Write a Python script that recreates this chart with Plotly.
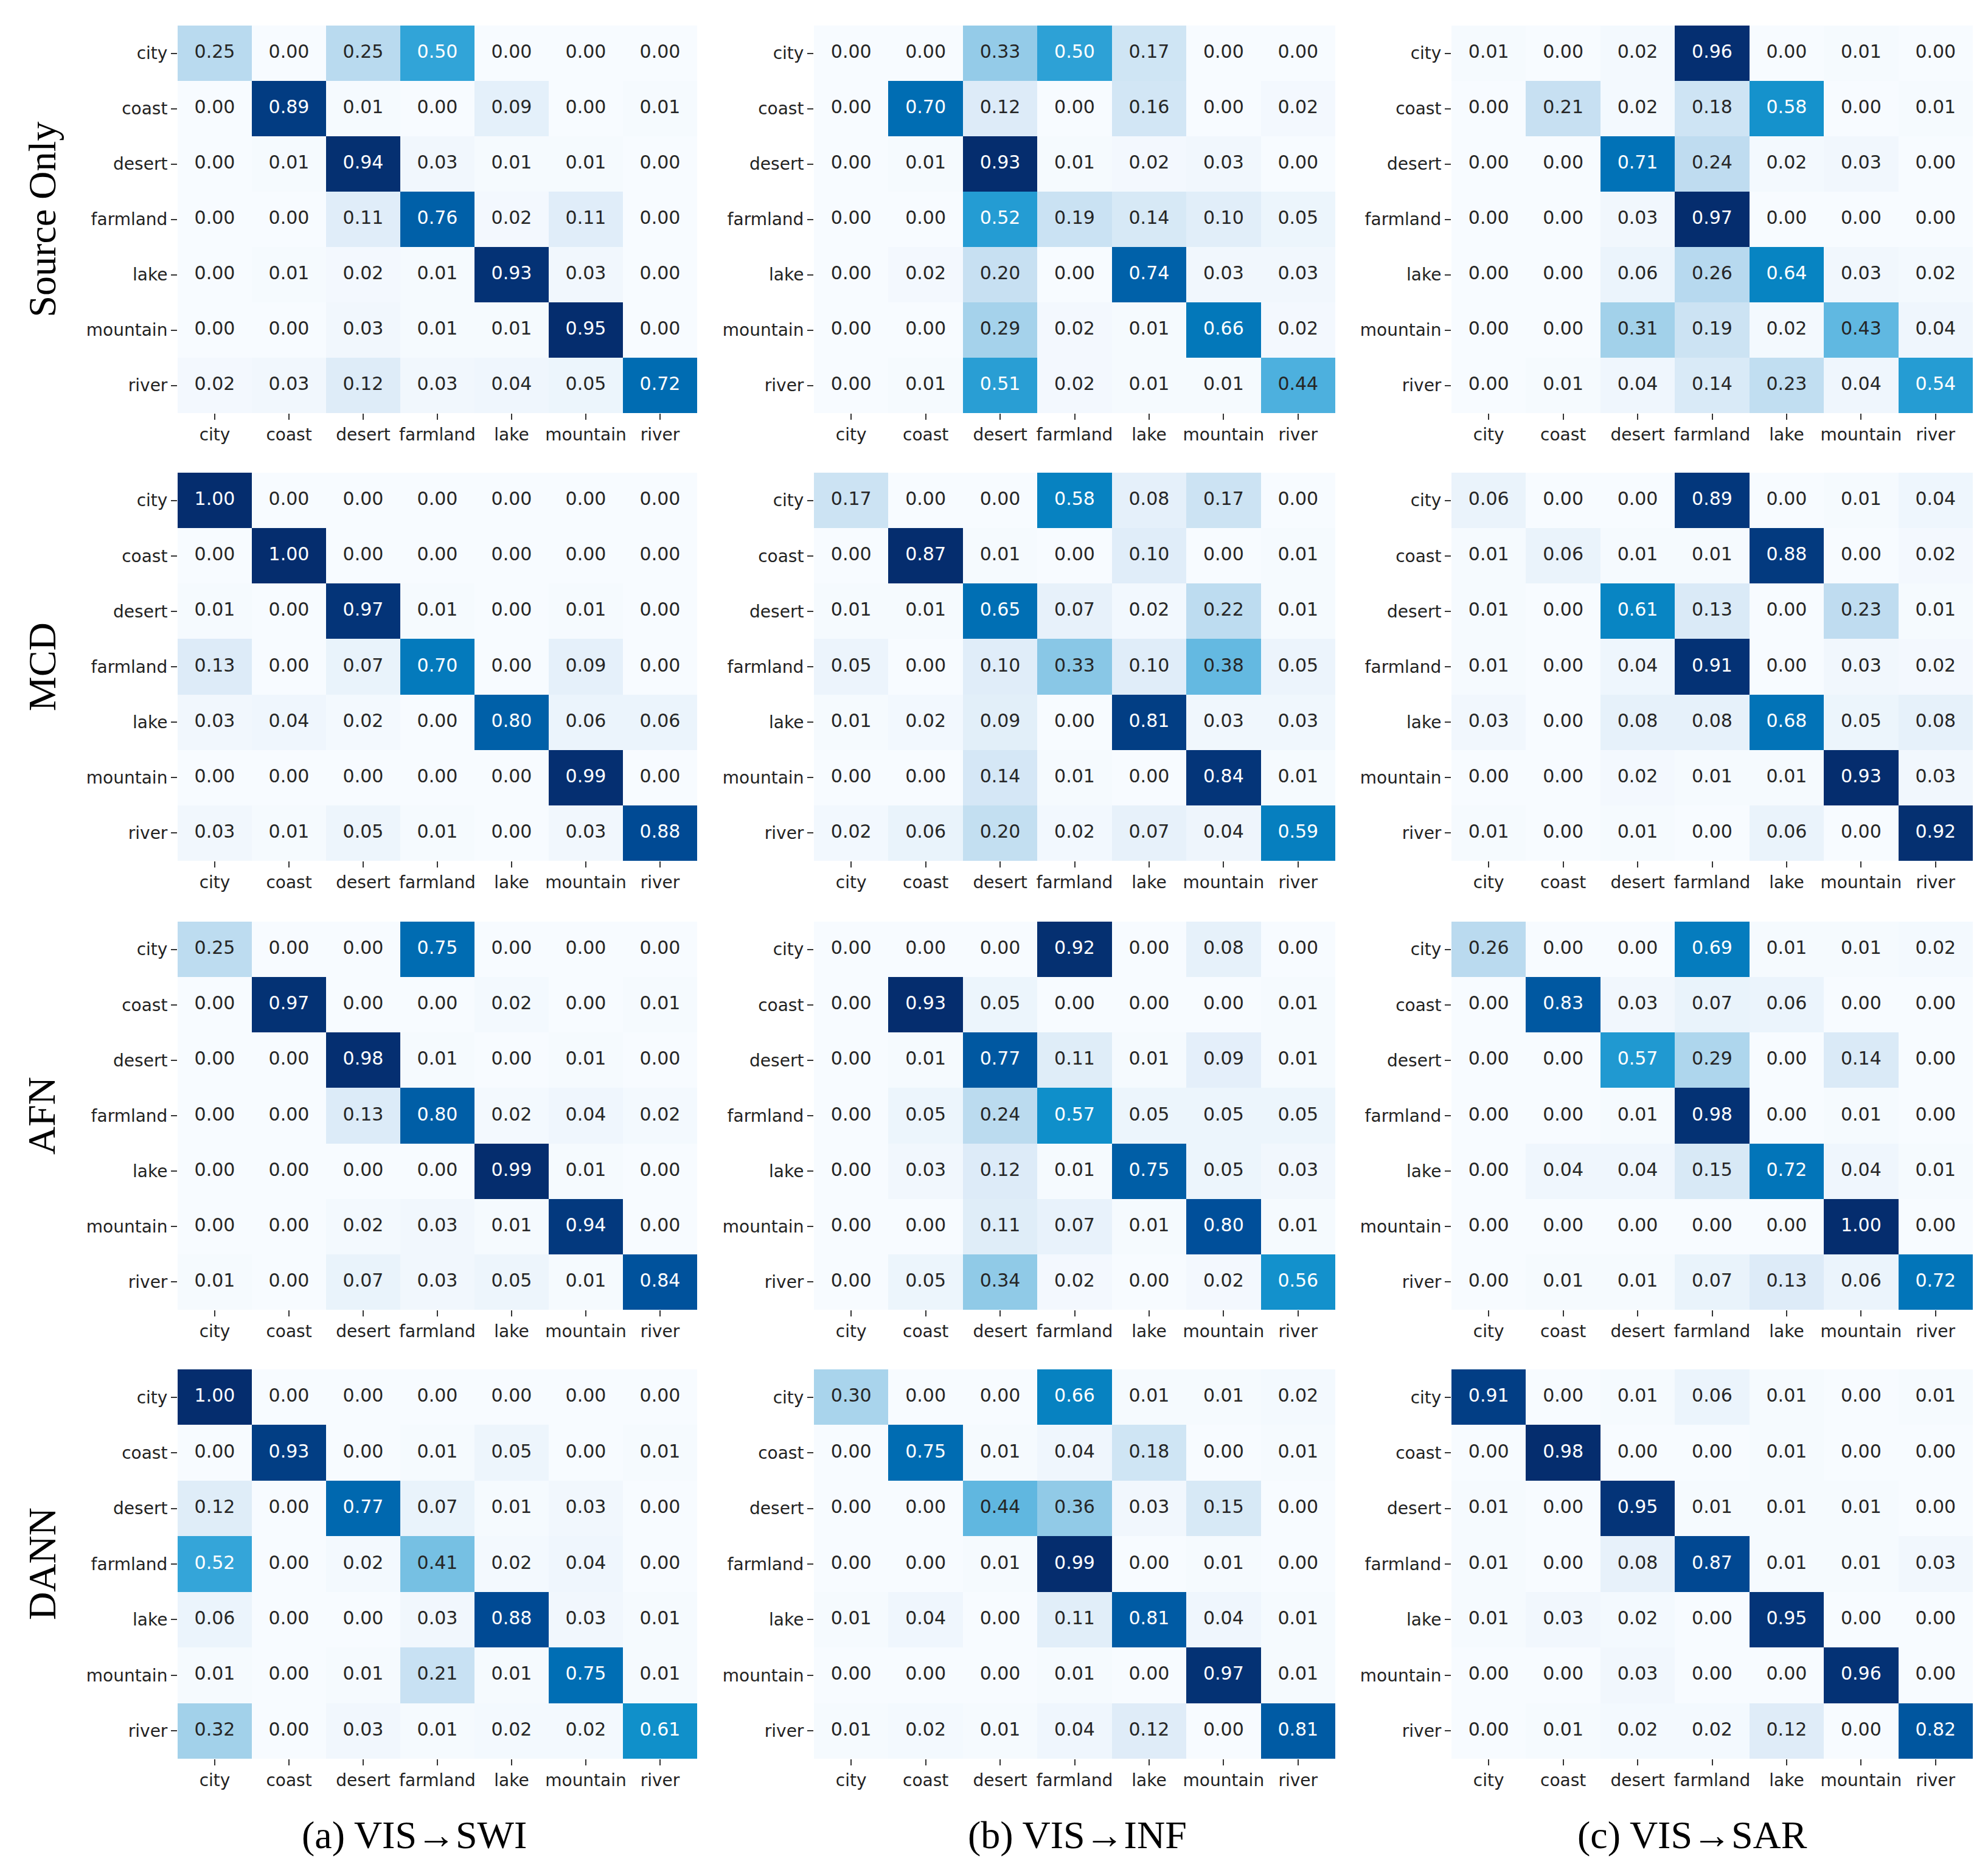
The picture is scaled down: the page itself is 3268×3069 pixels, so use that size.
import plotly.graph_objects as go

classes = ['city', 'coast', 'desert', 'farmland', 'lake', 'mountain', 'river']
methods = ['Source Only', 'MCD', 'AFN', 'DANN']
tasks = ['(a) VIS→SWI', '(b) VIS→INF', '(c) VIS→SAR']

# ---------------------- Source Only ----------------------
so_swi = [
    [0.25, 0.00, 0.25, 0.50, 0.00, 0.00, 0.00],
    [0.00, 0.89, 0.01, 0.00, 0.09, 0.00, 0.01],
    [0.00, 0.01, 0.94, 0.03, 0.01, 0.01, 0.00],
    [0.00, 0.00, 0.11, 0.76, 0.02, 0.11, 0.00],
    [0.00, 0.01, 0.02, 0.01, 0.93, 0.03, 0.00],
    [0.00, 0.00, 0.03, 0.01, 0.01, 0.95, 0.00],
    [0.02, 0.03, 0.12, 0.03, 0.04, 0.05, 0.72],
]
so_inf = [
    [0.00, 0.00, 0.33, 0.50, 0.17, 0.00, 0.00],
    [0.00, 0.70, 0.12, 0.00, 0.16, 0.00, 0.02],
    [0.00, 0.01, 0.93, 0.01, 0.02, 0.03, 0.00],
    [0.00, 0.00, 0.52, 0.19, 0.14, 0.10, 0.05],
    [0.00, 0.02, 0.20, 0.00, 0.74, 0.03, 0.03],
    [0.00, 0.00, 0.29, 0.02, 0.01, 0.66, 0.02],
    [0.00, 0.01, 0.51, 0.02, 0.01, 0.01, 0.44],
]
so_sar = [
    [0.01, 0.00, 0.02, 0.96, 0.00, 0.01, 0.00],
    [0.00, 0.21, 0.02, 0.18, 0.58, 0.00, 0.01],
    [0.00, 0.00, 0.71, 0.24, 0.02, 0.03, 0.00],
    [0.00, 0.00, 0.03, 0.97, 0.00, 0.00, 0.00],
    [0.00, 0.00, 0.06, 0.26, 0.64, 0.03, 0.02],
    [0.00, 0.00, 0.31, 0.19, 0.02, 0.43, 0.04],
    [0.00, 0.01, 0.04, 0.14, 0.23, 0.04, 0.54],
]

# ---------------------- MCD ----------------------
mcd_swi = [
    [1.00, 0.00, 0.00, 0.00, 0.00, 0.00, 0.00],
    [0.00, 1.00, 0.00, 0.00, 0.00, 0.00, 0.00],
    [0.01, 0.00, 0.97, 0.01, 0.00, 0.01, 0.00],
    [0.13, 0.00, 0.07, 0.70, 0.00, 0.09, 0.00],
    [0.03, 0.04, 0.02, 0.00, 0.80, 0.06, 0.06],
    [0.00, 0.00, 0.00, 0.00, 0.00, 0.99, 0.00],
    [0.03, 0.01, 0.05, 0.01, 0.00, 0.03, 0.88],
]
mcd_inf = [
    [0.17, 0.00, 0.00, 0.58, 0.08, 0.17, 0.00],
    [0.00, 0.87, 0.01, 0.00, 0.10, 0.00, 0.01],
    [0.01, 0.01, 0.65, 0.07, 0.02, 0.22, 0.01],
    [0.05, 0.00, 0.10, 0.33, 0.10, 0.38, 0.05],
    [0.01, 0.02, 0.09, 0.00, 0.81, 0.03, 0.03],
    [0.00, 0.00, 0.14, 0.01, 0.00, 0.84, 0.01],
    [0.02, 0.06, 0.20, 0.02, 0.07, 0.04, 0.59],
]
mcd_sar = [
    [0.06, 0.00, 0.00, 0.89, 0.00, 0.01, 0.04],
    [0.01, 0.06, 0.01, 0.01, 0.88, 0.00, 0.02],
    [0.01, 0.00, 0.61, 0.13, 0.00, 0.23, 0.01],
    [0.01, 0.00, 0.04, 0.91, 0.00, 0.03, 0.02],
    [0.03, 0.00, 0.08, 0.08, 0.68, 0.05, 0.08],
    [0.00, 0.00, 0.02, 0.01, 0.01, 0.93, 0.03],
    [0.01, 0.00, 0.01, 0.00, 0.06, 0.00, 0.92],
]

# ---------------------- AFN ----------------------
afn_swi = [
    [0.25, 0.00, 0.00, 0.75, 0.00, 0.00, 0.00],
    [0.00, 0.97, 0.00, 0.00, 0.02, 0.00, 0.01],
    [0.00, 0.00, 0.98, 0.01, 0.00, 0.01, 0.00],
    [0.00, 0.00, 0.13, 0.80, 0.02, 0.04, 0.02],
    [0.00, 0.00, 0.00, 0.00, 0.99, 0.01, 0.00],
    [0.00, 0.00, 0.02, 0.03, 0.01, 0.94, 0.00],
    [0.01, 0.00, 0.07, 0.03, 0.05, 0.01, 0.84],
]
afn_inf = [
    [0.00, 0.00, 0.00, 0.92, 0.00, 0.08, 0.00],
    [0.00, 0.93, 0.05, 0.00, 0.00, 0.00, 0.01],
    [0.00, 0.01, 0.77, 0.11, 0.01, 0.09, 0.01],
    [0.00, 0.05, 0.24, 0.57, 0.05, 0.05, 0.05],
    [0.00, 0.03, 0.12, 0.01, 0.75, 0.05, 0.03],
    [0.00, 0.00, 0.11, 0.07, 0.01, 0.80, 0.01],
    [0.00, 0.05, 0.34, 0.02, 0.00, 0.02, 0.56],
]
afn_sar = [
    [0.26, 0.00, 0.00, 0.69, 0.01, 0.01, 0.02],
    [0.00, 0.83, 0.03, 0.07, 0.06, 0.00, 0.00],
    [0.00, 0.00, 0.57, 0.29, 0.00, 0.14, 0.00],
    [0.00, 0.00, 0.01, 0.98, 0.00, 0.01, 0.00],
    [0.00, 0.04, 0.04, 0.15, 0.72, 0.04, 0.01],
    [0.00, 0.00, 0.00, 0.00, 0.00, 1.00, 0.00],
    [0.00, 0.01, 0.01, 0.07, 0.13, 0.06, 0.72],
]

# ---------------------- DANN ----------------------
dann_swi = [
    [1.00, 0.00, 0.00, 0.00, 0.00, 0.00, 0.00],
    [0.00, 0.93, 0.00, 0.01, 0.05, 0.00, 0.01],
    [0.12, 0.00, 0.77, 0.07, 0.01, 0.03, 0.00],
    [0.52, 0.00, 0.02, 0.41, 0.02, 0.04, 0.00],
    [0.06, 0.00, 0.00, 0.03, 0.88, 0.03, 0.01],
    [0.01, 0.00, 0.01, 0.21, 0.01, 0.75, 0.01],
    [0.32, 0.00, 0.03, 0.01, 0.02, 0.02, 0.61],
]
dann_inf = [
    [0.30, 0.00, 0.00, 0.66, 0.01, 0.01, 0.02],
    [0.00, 0.75, 0.01, 0.04, 0.18, 0.00, 0.01],
    [0.00, 0.00, 0.44, 0.36, 0.03, 0.15, 0.00],
    [0.00, 0.00, 0.01, 0.99, 0.00, 0.01, 0.00],
    [0.01, 0.04, 0.00, 0.11, 0.81, 0.04, 0.01],
    [0.00, 0.00, 0.00, 0.01, 0.00, 0.97, 0.01],
    [0.01, 0.02, 0.01, 0.04, 0.12, 0.00, 0.81],
]
dann_sar = [
    [0.91, 0.00, 0.01, 0.06, 0.01, 0.00, 0.01],
    [0.00, 0.98, 0.00, 0.00, 0.01, 0.00, 0.00],
    [0.01, 0.00, 0.95, 0.01, 0.01, 0.01, 0.00],
    [0.01, 0.00, 0.08, 0.87, 0.01, 0.01, 0.03],
    [0.01, 0.03, 0.02, 0.00, 0.95, 0.00, 0.00],
    [0.00, 0.00, 0.03, 0.00, 0.00, 0.96, 0.00],
    [0.00, 0.01, 0.02, 0.02, 0.12, 0.00, 0.82],
]

grid = [
    [so_swi, so_inf, so_sar],
    [mcd_swi, mcd_inf, mcd_sar],
    [afn_swi, afn_inf, afn_sar],
    [dann_swi, dann_inf, dann_sar],
]

# pixel boxes of the heatmaps (page is 3268 x 3069, body margin 8px)
W, H = 3268, 3069
OFF = 8
col_px = [(292, 1146), (1338, 2195), (2386, 3243)]
row_px = [(42, 679), (777, 1415), (1515, 2153), (2251, 2891)]

def px_x(v):
    return (v - OFF) / W

def px_y(v):
    return 1 - (v - OFF) / H

# a slightly more saturated "Blues", like the scanned figure
blues = [
    [0.0, 'rgb(247,251,255)'],
    [0.125, 'rgb(222,236,248)'],
    [0.25, 'rgb(190,220,240)'],
    [0.375, 'rgb(140,200,230)'],
    [0.5, 'rgb(60,170,220)'],
    [0.625, 'rgb(10,140,200)'],
    [0.75, 'rgb(0,110,180)'],
    [0.875, 'rgb(0,75,150)'],
    [1.0, 'rgb(5,45,110)'],
]
tick_font = dict(family="DejaVu Sans", size=28, color="#222222")

fig = go.Figure()
layout_axes = {}
k = 0
for r in range(4):
    for c in range(3):
        z = grid[r][c]
        k += 1
        xa = 'x' if k == 1 else f'x{k}'
        ya = 'y' if k == 1 else f'y{k}'
        flat = [v for row in z for v in row]
        zmin, zmax = min(flat), max(flat)
        fig.add_trace(go.Heatmap(
            z=z, x=classes, y=classes,
            colorscale=blues, showscale=False,
            xaxis=xa, yaxis=ya, hoverinfo='skip',
        ))
        # cell values, white on dark cells
        xs, ys, txt, cols = [], [], [], []
        for i, yc in enumerate(classes):
            for j, xc in enumerate(classes):
                v = z[i][j]
                xs.append(xc)
                ys.append(yc)
                txt.append(f"{v:.2f}")
                norm = (v - zmin) / (zmax - zmin)
                cols.append('white' if norm > 0.48 else '#262626')
        fig.add_trace(go.Scatter(
            x=xs, y=ys, text=txt, mode='text',
            textfont=dict(family="DejaVu Sans", size=30, color=cols),
            xaxis=xa, yaxis=ya, hoverinfo='skip', showlegend=False,
        ))
        x0, x1 = col_px[c]
        y0, y1 = row_px[r]
        xname = 'xaxis' if k == 1 else f'xaxis{k}'
        yname = 'yaxis' if k == 1 else f'yaxis{k}'
        layout_axes[xname] = dict(
            domain=[px_x(x0), px_x(x1)], anchor=ya,
            categoryorder='array', categoryarray=classes,
            showgrid=False, zeroline=False, showline=False,
            ticks='outside', ticklen=10, tickwidth=2, tickcolor='#333333',
            tickfont=tick_font, fixedrange=True,
        )
        layout_axes[yname] = dict(
            domain=[px_y(y1), px_y(y0)], anchor=xa,
            categoryorder='array', categoryarray=classes,
            autorange='reversed',
            showgrid=False, zeroline=False, showline=False,
            ticks='outside', ticklen=10, tickwidth=2, tickcolor='#333333',
            tickfont=tick_font, fixedrange=True,
        )

annotations = []
for r, name in enumerate(methods):
    y0, y1 = row_px[r]
    annotations.append(dict(
        text=name, x=px_x(69), y=px_y((y0 + y1) / 2),
        xref='paper', yref='paper', textangle=-90,
        xanchor='center', yanchor='middle', showarrow=False,
        font=dict(family="Liberation Serif", size=64, color='black'),
    ))
title_x = [681, 1771, 2782]
for c, name in enumerate(tasks):
    annotations.append(dict(
        text=name, x=px_x(title_x[c]), y=px_y(3016),
        xref='paper', yref='paper',
        xanchor='center', yanchor='middle', showarrow=False,
        font=dict(family="Liberation Serif", size=64, color='black'),
    ))

fig.update_layout(
    width=W, height=H,
    margin=dict(l=0, r=0, t=0, b=0),
    plot_bgcolor='white', paper_bgcolor='white',
    showlegend=False,
    annotations=annotations,
    **layout_axes,
)

fig.write_html("out.html")
